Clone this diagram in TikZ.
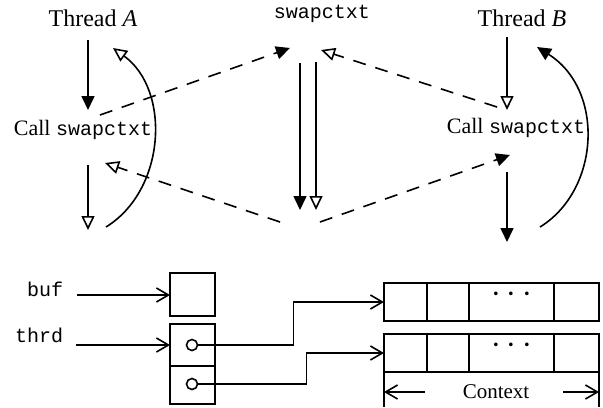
\documentclass[tikz,border=0pt]{standalone}
\usepackage{fontspec}
\setmainfont{Liberation Serif}
\setmonofont{Liberation Mono}
\usetikzlibrary{arrows.meta,
                positioning}

\begin{document}
\begin{tikzpicture}[
        x=0.5pt, y=-0.5pt,
        line width=0.8pt,
        txt/.style={inner sep=0pt},
        head/.style={inner sep=0pt, font=\fontsize{12}{14}\selectfont},
        call/.style={inner sep=0pt, font=\fontsize{11}{13}\selectfont},
        solidtip/.style={arrows={-Triangle[length=7pt, width=6.5pt]}},
        opentip/.style={arrows={-Triangle[open, length=7pt, width=6.5pt]}},
        switch/.style={dash pattern=on 6.5pt off 5pt},
        ptr/.style={arrows={-Straight Barb[length=6pt, width=7pt]}},
        cell/.style={rectangle, draw, inner sep=0pt, outer sep=0pt, anchor=north west, minimum height=19pt},
        hole/.style={circle, draw, inner sep=0pt, minimum size=5.5pt},
        etc/.style={inner sep=0pt, font=\fontsize{16}{16}\selectfont}
        ]
        \useasboundingbox (0,0) rectangle (603,407);

        \node (threadA) [head] at (93,18)  {Thread \textit{A}};
        \node (threadB) [head] at (522,18) {Thread \textit{B}};
        \node (swap)    [txt]  at (322,14) {\texttt{\fontsize{10}{12}\selectfont swapctxt}};
        \node (callA)   [call] at (83,130) {Call \texttt{\fontsize{10}{12}\selectfont swapctxt}};
        \node (callB)   [call] at (516,128) {Call \texttt{\fontsize{10}{12}\selectfont swapctxt}};

        \coordinate (a0) at (88,40);   \coordinate (a1) at (88,110);
        \coordinate (a2) at (88,165);  \coordinate (a3) at (88,230);
        \coordinate (b0) at (507,37);  \coordinate (b1) at (507,110);
        \coordinate (b2) at (507,172); \coordinate (b3) at (507,242);
        \coordinate (m0) at (300,63);  \coordinate (m1) at (300,210);
        \coordinate (n0) at (316,62);  \coordinate (n1) at (316,210);

        \draw [solidtip] (a0) -- (a1);
        \draw [opentip]  (a2) -- (a3);
        \draw [opentip]  (b0) -- (b1);
        \draw [solidtip] (b2) -- (b3);
        \draw [solidtip] (m0) -- (m1);
        \draw [opentip]  (n0) -- (n1);

        \coordinate (d1) at (100,115); \coordinate (d2) at (290,48);
        \coordinate (d3) at (497,107); \coordinate (d4) at (321,50);
        \coordinate (d5) at (280,222); \coordinate (d6) at (105,163);
        \coordinate (d7) at (320,222); \coordinate (d8) at (510,155);

        \draw [switch, solidtip] (d1) -- (d2);
        \draw [switch, opentip]  (d3) -- (d4);
        \draw [switch, opentip]  (d5) -- (d6);
        \draw [switch, solidtip] (d7) -- (d8);

        \coordinate (r0) at (106,227); \coordinate (r1) at (113,48);
        \coordinate (s0) at (540,227); \coordinate (s1) at (537,47);

        \draw [opentip]  (r0) .. controls (166,190) and (171,90) .. (r1);
        \draw [solidtip] (s0) .. controls (600,190) and (605,90) .. (s1);

        % buffers and thread record
        \node (buf)  [txt, anchor=east] at (64,289) {\texttt{buf}};
        \node (thrd) [txt, anchor=east] at (64,335) {\texttt{thrd}};

        \node (bufcell) [cell, minimum width=22.5pt, minimum height=21.5pt] at (170,273) {};
        \node (t1) [cell, minimum width=22.5pt, minimum height=21pt] at (170,324) {};
        \node (t2) [cell, minimum width=22.5pt, minimum height=19pt, below=0pt of t1] {};
        \node (p1) [hole] at (192,345) {};
        \node (p2) [hole] at (192,384) {};

        \coordinate (bufin) at (77,295);
        \coordinate (thrdin) at (76,345);
        \draw [ptr] (bufin) -- (bufin -| bufcell.west);
        \draw [ptr] (thrdin) -- (thrdin -| t1.west);

        % two saved contexts
        \node (c11) [cell, minimum width=21.5pt] at (384,283) {};
        \node (c12) [cell, minimum width=21pt, right=0pt of c11] {};
        \node (c13) [cell, minimum width=42.5pt, right=0pt of c12] {};
        \node (c14) [cell, minimum width=22.5pt, right=0pt of c13] {};
        \node (c21) [cell, minimum width=21.5pt, below=6.5pt of c11] {};
        \node (c22) [cell, minimum width=21pt, right=0pt of c21] {};
        \node (c23) [cell, minimum width=42.5pt, right=0pt of c22] {};
        \node (c24) [cell, minimum width=22.5pt, right=0pt of c23] {};
        \node (dots1) [etc] at ([yshift=3.5pt]c13) {$\cdots$};
        \node (dots2) [etc] at ([yshift=3.5pt]c23) {$\cdots$};

        \draw [ptr] (p1.east) -- ++(95,0) |- (c11.west);
        \draw [ptr] (p2.east) -- ++(108,0) |- (c21.west);

        \draw (c21.south west) -- ++(0,35);
        \draw (c24.south east) -- ++(0,35);
        \node (ctx) [txt, font=\fontsize{10.5}{12}\selectfont] at (496,392) {Context};
        \coordinate (ctxL) at (425,392);
        \coordinate (ctxR) at (563,392);
        \draw [ptr] (ctxL) -- (ctxL -| c21.west);
        \draw [ptr] (ctxR) -- (ctxR -| c24.east);

    \end{tikzpicture}
\end{document}
